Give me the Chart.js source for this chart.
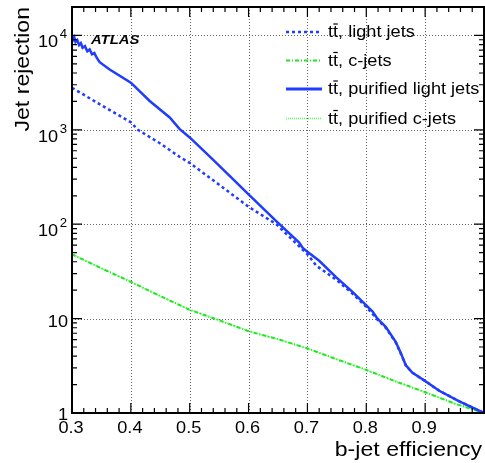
<!DOCTYPE html>
<html>
<head>
<meta charset="utf-8">
<script src="https://cdn.jsdelivr.net/npm/chart.js@4/dist/chart.umd.min.js"></script>
<style>
html,body{margin:0;padding:0;background:#fff;}
canvas{display:block;}
</style>
</head>
<body>
<canvas id="c" width="485" height="463"></canvas>
<script>
// ---- data ----
const effLight = [0.30,0.35,0.40,0.412,0.45,0.483,0.50,0.55,0.60,0.647,0.70,0.715,0.75,0.777,0.80,0.82,0.833,0.85,0.859,0.867,0.878,0.90,0.924,0.958,1.00];
const rejLight = [2790,1820,1200,1000,716,516,446,262,153,100,48,36.4,25.5,18.3,13.3,9.6,8.0,5.6,4.2,3.2,2.68,2.18,1.72,1.33,1.0];

const effPurLight = [0.300,0.302,0.304,0.306,0.309,0.312,0.315,0.318,0.322,0.326,0.330,0.334,0.338,0.342,0.347,0.364,0.40,0.432,0.466,0.483,0.50,0.5395,0.60,0.647,0.686,0.692,0.70,0.720,0.7486,0.777,0.80,0.8107,0.819,0.833,0.850,0.859,0.867,0.878,0.90,0.924,0.958,1.00];
const rejPurLight = [9800,9000,9500,8500,8900,7900,8300,7400,7700,6800,7100,6300,6500,5800,5200,4360,3155,2019,1350,1016,830,483,207,108,64,56,51,41,27.5,19.1,13.8,11.9,10,8.2,5.68,4.28,3.22,2.68,2.18,1.72,1.33,1.0];

const effC = [0.30,0.35,0.40,0.45,0.50,0.55,0.60,0.65,0.70,0.75,0.80,0.85,0.90,0.95,1.00];
const rejC = [48,34.1,24.5,17.3,12.4,9.6,7.35,6.05,4.83,3.7,2.86,2.16,1.66,1.26,1.0];

const effPurC = [0.30,0.35,0.40,0.45,0.50,0.55,0.60,0.65,0.70,0.75,0.80,0.85,0.90,0.95,1.00];
const rejPurC = [48,34.1,24.5,17.3,12.4,9.6,7.35,6.05,4.83,3.7,2.86,2.16,1.66,1.26,1.0];

const seriesNames = ["light jets","c-jets","purified light jets","purified c-jets"];
const xTickLabels = ["0.3","0.4","0.5","0.6","0.7","0.8","0.9","1"];
const xTickValues = [0.3,0.4,0.5,0.6,0.7,0.8,0.9,1.0];
const yTickValues = [1,10,100,1000,10000];
const yTickExp = ["","","2","3","4"];

const BLUE = '#1f3cff', GREEN = '#22e622', LGREEN = '#55ff55';
const FONT = '"Liberation Sans", Arial, Helvetica, sans-serif';
const SX = 1.1;

function pts(xs, ys){ return xs.map((x,i)=>({x:x, y:ys[i]})); }

function txt(ctx, s, x, y, size, align, opts){
  opts = opts || {};
  ctx.save();
  ctx.font = (opts.style||'') + ' ' + size + 'px ' + FONT;
  ctx.textBaseline = 'alphabetic';
  ctx.fillStyle = opts.color || '#000';
  const w = ctx.measureText(s).width * SX;
  let x0 = align === 'right' ? x - w : (align === 'center' ? x - w/2 : x);
  ctx.translate(x0, y);
  ctx.scale(SX, 1);
  ctx.textAlign = 'left';
  ctx.fillText(s, 0, 0);
  ctx.restore();
  return w;
}

const decor = {
  id: 'decor',
  beforeDatasetsDraw(chart){
    const ctx = chart.ctx, a = chart.chartArea, xs = chart.scales.x, ys = chart.scales.y;
    ctx.save();
    ctx.strokeStyle = '#666';
    ctx.lineWidth = 1;
    ctx.setLineDash([1,2]);
    xTickValues.forEach(v=>{
      if (v <= 0.3 || v >= 1.0) return;
      const px = Math.round(xs.getPixelForValue(v)) + 0.5;
      ctx.beginPath(); ctx.moveTo(px, a.top); ctx.lineTo(px, a.bottom); ctx.stroke();
    });
    yTickValues.forEach(v=>{
      if (v <= 1) return;
      const py = Math.round(ys.getPixelForValue(v)) + 0.5;
      ctx.beginPath(); ctx.moveTo(a.left, py); ctx.lineTo(a.right, py); ctx.stroke();
    });
    ctx.restore();
  },
  afterDatasetsDraw(chart){
    const ctx = chart.ctx, a = chart.chartArea, xs = chart.scales.x, ys = chart.scales.y;
    ctx.save();
    ctx.setLineDash([]);
    ctx.strokeStyle = '#000';
    ctx.lineWidth = 1.2;
    for (let i = 0; i <= 35; i++){
      const v = 0.3 + i*0.02;
      const px = xs.getPixelForValue(v);
      const L = (i % 5 === 0) ? 10 : 5;
      ctx.beginPath();
      ctx.moveTo(px, a.bottom); ctx.lineTo(px, a.bottom - L);
      ctx.moveTo(px, a.top); ctx.lineTo(px, a.top + L);
      ctx.stroke();
    }
    for (let d = 0; d <= 4; d++){
      for (let m = 1; m <= 9; m++){
        const v = m * Math.pow(10, d);
        if (v > ys.max) continue;
        const py = ys.getPixelForValue(v);
        const L = (m === 1) ? 10 : 5;
        ctx.beginPath();
        ctx.moveTo(a.left, py); ctx.lineTo(a.left + L, py);
        ctx.moveTo(a.right, py); ctx.lineTo(a.right - L, py);
        ctx.stroke();
      }
    }
    ctx.lineWidth = 2;
    ctx.strokeRect(a.left, a.top, a.right - a.left, a.bottom - a.top);
    ctx.restore();

    xTickValues.forEach((v,i)=>{
      const px = xs.getPixelForValue(v);
      const off = (v === 1.0) ? 6 : -1;
      txt(ctx, xTickLabels[i], px + off, 433, 16.5, 'center');
    });
    yTickValues.forEach((v,i)=>{
      const py = ys.getPixelForValue(v);
      if (v === 1){
        txt(ctx, '1', 68, 420, 16.5, 'right');
      } else if (yTickExp[i] === ''){
        txt(ctx, '10', 68, py + 8, 16.5, 'right');
      } else {
        const we = txt(ctx, yTickExp[i], 67, py + 3, 12, 'right');
        txt(ctx, '10', 67 - we - 1.5, py + 12, 16.5, 'right');
      }
    });
    txt(ctx, 'b-jet efficiency', 482, 456, 21, 'right');
    ctx.save();
    ctx.translate(29, 7);
    ctx.rotate(-Math.PI/2);
    txt(ctx, 'Jet rejection', 0, 0, 21, 'right');
    ctx.restore();
    txt(ctx, 'ATLAS', 91, 44, 13.5, 'left', {style:'italic bold'});

    const rows = [32, 60.5, 89, 118.5];
    const ds = chart.data.datasets;
    [0,1,2,3].forEach((k, r)=>{
      const d = ds[k];
      const y = rows[r];
      ctx.save();
      ctx.strokeStyle = d.borderColor;
      ctx.lineWidth = d.legendWidth;
      ctx.setLineDash(d.borderDash || []);
      ctx.beginPath(); ctx.moveTo(286, y); ctx.lineTo(322, y); ctx.stroke();
      ctx.restore();
      const bx = 328, by = y + 5;
      const wtt = txt(ctx, 'tt', bx, by, 16.5, 'left');
      ctx.save();
      ctx.font = '16.5px ' + FONT;
      const wt = ctx.measureText('t').width * SX;
      ctx.strokeStyle = '#000'; ctx.lineWidth = 1.2;
      ctx.beginPath(); ctx.moveTo(bx + wt + 0.3, by - 13); ctx.lineTo(bx + 2*wt - 0.3, by - 13); ctx.stroke();
      ctx.restore();
      txt(ctx, ', ' + seriesNames[k], bx + wtt, by, 16.5, 'left');
    });
  }
};

new Chart(document.getElementById('c'), {
  type: 'line',
  data: {
    datasets: [
      { label: seriesNames[0], data: pts(effLight, rejLight), borderColor: BLUE, borderWidth: 2.5, legendWidth: 2.5, borderDash: [3,3], order: 3 },
      { label: seriesNames[1], data: pts(effC, rejC), borderColor: GREEN, borderWidth: 2, legendWidth: 2, borderDash: [4,2,1,2], order: 2 },
      { label: seriesNames[2], data: pts(effPurLight, rejPurLight), borderColor: BLUE, borderWidth: 2.5, legendWidth: 3, borderDash: [], order: 1 },
      { label: seriesNames[3], data: pts(effPurC, rejPurC), borderColor: LGREEN, borderWidth: 1.5, legendWidth: 1.5, borderDash: [1,1], order: 4 }
    ]
  },
  options: {
    responsive: false,
    devicePixelRatio: 1,
    animation: false,
    layout: { padding: { left: 72, right: 1, top: 7, bottom: 50 } },
    elements: { point: { radius: 0 }, line: { tension: 0, fill: false } },
    plugins: { legend: { display: false }, tooltip: { enabled: false } },
    scales: {
      x: { type: 'linear', min: 0.3, max: 1.0, display: false },
      y: { type: 'logarithmic', min: 1, max: 20000, display: false }
    }
  },
  plugins: [decor]
});
</script>
</body>
</html>
